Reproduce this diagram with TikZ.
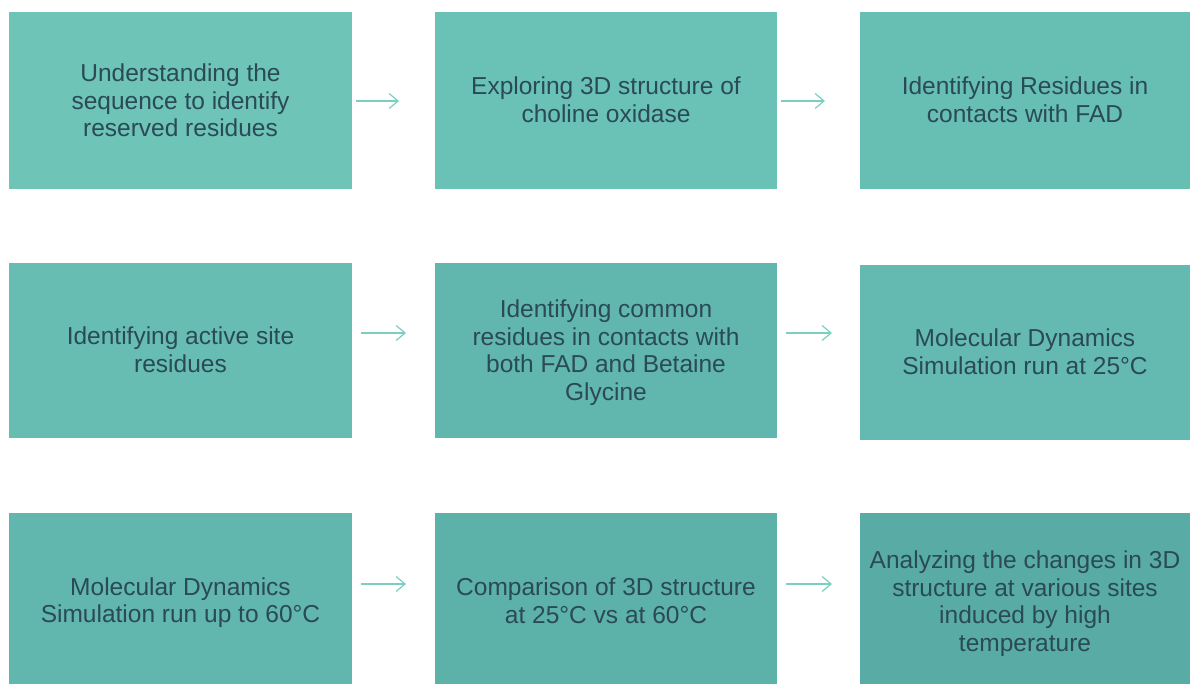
\documentclass[tikz,border=0pt]{standalone}
\usepackage{fontspec}
\setmainfont{Liberation Sans}
\usetikzlibrary{arrows.meta}
\definecolor{txt}{HTML}{2A4A55}
\definecolor{arr}{HTML}{7ACFC1}
\definecolor{cA}{HTML}{6DC4B7}
\definecolor{cB}{HTML}{6AC1B5}
\definecolor{cC}{HTML}{67BEB3}
\definecolor{cD}{HTML}{67BDB2}
\definecolor{cE}{HTML}{61B7AD}
\definecolor{cF}{HTML}{64BAB0}
\definecolor{cG}{HTML}{61B6AD}
\definecolor{cH}{HTML}{5CB1A9}
\definecolor{cI}{HTML}{58ACA5}
\tikzset{
  steptext/.style={text=txt, font=\fontsize{24.5}{27.5}\selectfont, align=center, inner sep=0pt},
  flow/.style={draw=arr, line width=1.2pt, -{Straight Barb[length=9pt,width=15pt,line width=1.2pt]}}
}
\newcommand{\bx}[8]{% name, color, x1,y1,x2,y2, text, dy
  \fill[#2] (#3,#4) rectangle (#5,#6);
  \node[steptext] (#1) at ({(#3+#5)/2},{(#4+#6)/2+#8}) {#7};
  \coordinate (#1-w) at (#3,{(#4+#6)/2});
  \coordinate (#1-e) at (#5,{(#4+#6)/2});
}
\begin{document}
\begin{tikzpicture}[x=1pt,y=-1pt]
\useasboundingbox (0,0) rectangle (1190,684);
\bx{b1}{cA}{9}{12}{352}{189}{Understanding the\\sequence to identify\\reserved residues}{0}
\bx{b2}{cB}{435}{12}{777}{189}{Exploring 3D structure of\\choline oxidase}{-1}
\bx{b3}{cC}{860}{12}{1190}{189}{Identifying Residues in\\contacts with FAD}{-1}
\bx{b4}{cD}{9}{263}{352}{438}{Identifying active site\\residues}{-1}
\bx{b5}{cE}{435}{263}{777}{438}{Identifying common\\residues in contacts with\\both FAD and Betaine\\Glycine}{2}
\bx{b6}{cF}{860}{265}{1190}{440}{Molecular Dynamics\\Simulation run at 25°C}{-1}
\bx{b7}{cG}{9}{513}{352}{684}{Molecular Dynamics\\Simulation run up to 60°C}{4}
\bx{b8}{cH}{435}{513}{777}{684}{Comparison of 3D structure\\at 25°C vs at 60°C}{2}
\bx{b9}{cI}{860}{513}{1190}{684}{Analyzing the changes in 3D\\structure at various sites\\induced by high\\temperature}{5}
\coordinate (a1s) at (356,101); \coordinate (a1e) at (399,101);
\coordinate (a2s) at (781,101); \coordinate (a2e) at (825,101);
\coordinate (a3s) at (361,333); \coordinate (a3e) at (406,333);
\coordinate (a4s) at (786,333); \coordinate (a4e) at (832,333);
\coordinate (a5s) at (361,584); \coordinate (a5e) at (406,584);
\coordinate (a6s) at (786,584); \coordinate (a6e) at (832,584);
\draw[flow] (a1s) -- (a1e);
\draw[flow] (a2s) -- (a2e);
\draw[flow] (a3s) -- (a3e);
\draw[flow] (a4s) -- (a4e);
\draw[flow] (a5s) -- (a5e);
\draw[flow] (a6s) -- (a6e);
\end{tikzpicture}
\end{document}
